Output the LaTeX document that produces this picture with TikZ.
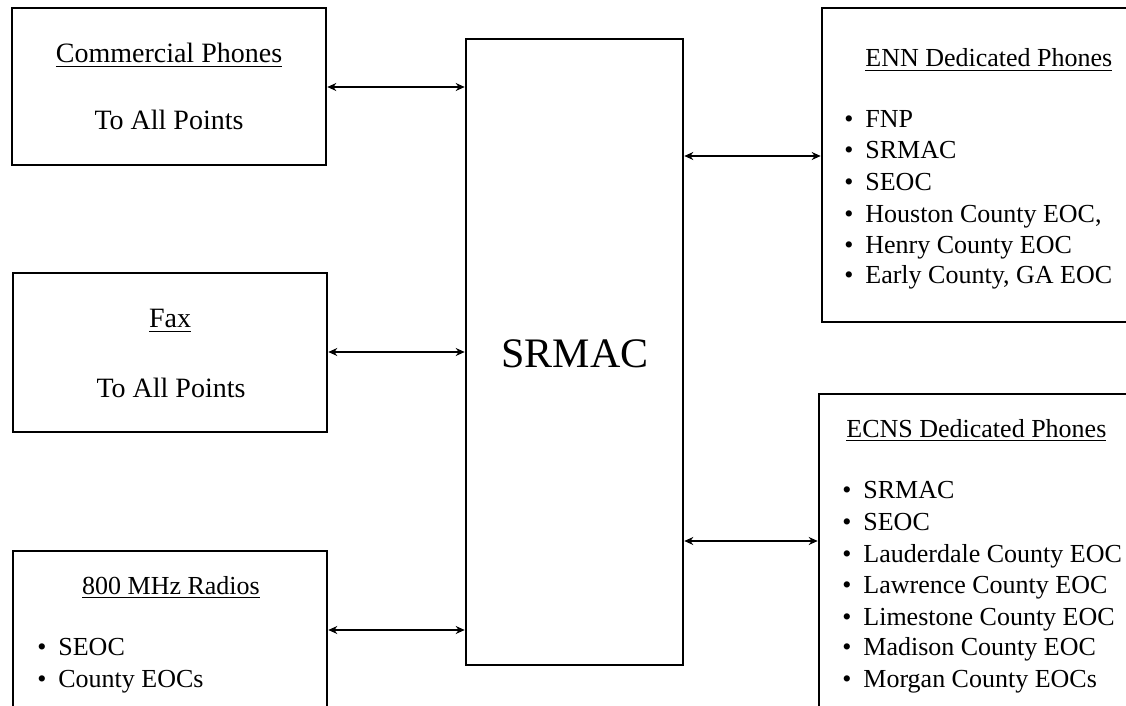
\documentclass[tikz,border=0pt]{standalone}
\usepackage{fontspec}
\setmainfont{Liberation Serif}
\usetikzlibrary{arrows.meta,fit}
\begin{document}
\begin{tikzpicture}[x=0.5pt,y=-0.5pt,
 box/.style={draw, line width=1.3pt, rectangle, inner sep=0pt},
 conn/.style={line width=0.9pt, {Stealth[length=4.5pt,width=4pt]}-{Stealth[length=4.5pt,width=4pt]}},
 txt/.style={anchor=base, inner sep=0pt, font=\fontsize{14}{16}\selectfont},
 stxt/.style={anchor=base, inner sep=0pt, font=\fontsize{13}{15}\selectfont},
 ltxt/.style={anchor=base west, inner sep=0pt, font=\fontsize{13}{15}\selectfont},
 bul/.style={anchor=base, inner sep=0pt, font=\fontsize{13}{15}\selectfont},
]
\useasboundingbox (0,0) rectangle (1126,706);
\clip (0,0) rectangle (1126,706);
% boxes
\node[box, fit={(12,8) (326,165)}] (comm) {};
\node[box, fit={(13,273) (327,432)}] (fax) {};
\node[box, fit={(13,551) (327,720)}] (radio) {};
\node[box, fit={(466,39) (683,665)}] (srmac) {};
\node[box, fit={(822,8) (1140,322)}] (enn) {};
\node[box, fit={(819,394) (1140,720)}] (ecns) {};
% centre text
\node[anchor=base, inner sep=0pt, font=\fontsize{21}{24}\selectfont] (srmacl) at (575,367) {SRMAC};
% commercial
\node[txt] (commh) at (169,63) {\underline{Commercial Phones}};
\node[txt] (comma) at (169,130) {To All Points};
% fax
\node[txt] (faxh) at (170,328) {\underline{Fax}};
\node[txt] (faxa) at (171,397) {To All Points};
% radios
\node[stxt] (radioh) at (171,594) {\underline{800 MHz Radios}};
\node[bul] (rb1) at (42,655) {•}; \node[ltxt] (rt1) at (58,655) {SEOC};
\node[bul] (rb2) at (42,687) {•}; \node[ltxt] (rt2) at (58,687) {County EOCs};
% ENN
\node[ltxt] (ennh) at (865,67) {\underline{ENN Dedicated Phones}};
\node[bul] (eb1) at (849,128) {•}; \node[ltxt] (et1) at (865,128) {FNP};
\node[bul] (eb2) at (849,159) {•}; \node[ltxt] (et2) at (865,159) {SRMAC};
\node[bul] (eb3) at (849,191) {•}; \node[ltxt] (et3) at (865,191) {SEOC};
\node[bul] (eb4) at (849,223) {•}; \node[ltxt] (et4) at (865,223) {Houston County EOC,};
\node[bul] (eb5) at (849,254) {•}; \node[ltxt] (et5) at (865,254) {Henry County EOC};
\node[bul] (eb6) at (849,284) {•}; \node[ltxt] (et6) at (865,284) {Early County, GA EOC};
% ECNS
\node[ltxt] (ecnsh) at (846,437) {\underline{ECNS Dedicated Phones}};
\node[bul] (cb1) at (847,498) {•}; \node[ltxt] (ct1) at (863,498) {SRMAC};
\node[bul] (cb2) at (847,530) {•}; \node[ltxt] (ct2) at (863,530) {SEOC};
\node[bul] (cb3) at (847,562) {•}; \node[ltxt] (ct3) at (863,562) {Lauderdale County EOC};
\node[bul] (cb4) at (847,593) {•}; \node[ltxt] (ct4) at (863,593) {Lawrence County EOC};
\node[bul] (cb5) at (847,625) {•}; \node[ltxt] (ct5) at (863,625) {Limestone County EOC};
\node[bul] (cb6) at (847,655) {•}; \node[ltxt] (ct6) at (863,655) {Madison County EOC};
\node[bul] (cb7) at (847,687) {•}; \node[ltxt] (ct7) at (863,687) {Morgan County EOCs};
% connectors
\draw[conn] (comm.east |- 0,87) -- (srmac.west |- 0,87);
\draw[conn] (fax.east |- 0,352) -- (srmac.west |- 0,352);
\draw[conn] (radio.east |- 0,630) -- (srmac.west |- 0,630);
\draw[conn] (srmac.east |- 0,156) -- (enn.west |- 0,156);
\draw[conn] (srmac.east |- 0,541) -- (ecns.west |- 0,541);
\end{tikzpicture}
\end{document}
